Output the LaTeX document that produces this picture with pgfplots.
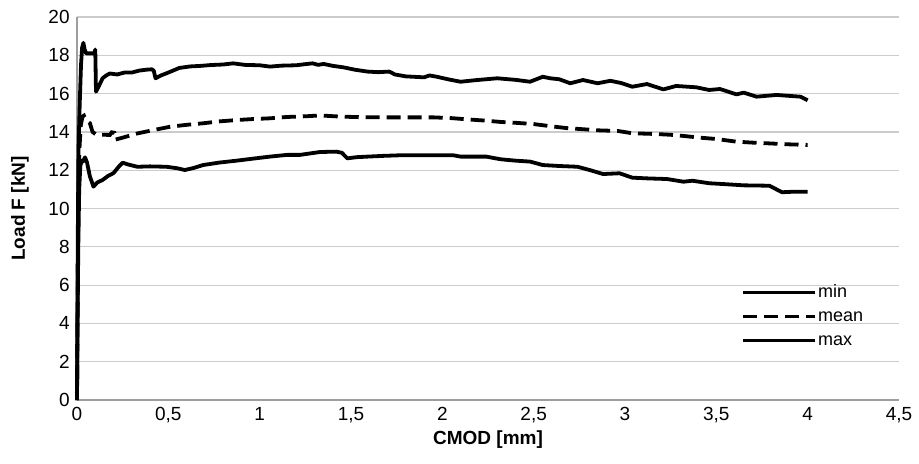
\documentclass[border=0pt]{standalone}
\usepackage{pgfplots}
\pgfplotsset{compat=1.18}
\usepackage{fontspec}
\setmainfont{Liberation Sans}
\begin{document}
\begin{tikzpicture}[x=1pt,y=1pt]
\useasboundingbox (0,0) rectangle (459.5,231.5);
\begin{axis}[
  at={(38.5pt,31.5pt)}, anchor=south west,
  scale only axis, width=411pt, height=191.5pt,
  xmin=0, xmax=4.5, ymin=0, ymax=20,
  xtick={0,0.5,...,4.5}, ytick={0,2,...,20},
  axis x line=bottom, axis y line=left,
  axis line style={-, color=black!38, line width=0.7pt},
  ymajorgrids, major grid style={color=black!20, line width=0.6pt},
  major tick length=0pt,
  /pgf/number format/assume math mode=true,
  /pgf/number format/use comma,
  xticklabel style={font=\fontsize{9.5}{11}\selectfont, inner sep=0pt, yshift=-3.5pt, anchor=north},
  yticklabel style={font=\fontsize{9.5}{11}\selectfont, inner sep=0pt, xshift=-3.5pt, anchor=east},
  xlabel={CMOD [mm]}, ylabel={Load F [kN]},
  label style={font=\fontsize{9.5}{11}\selectfont\bfseries},
  xlabel style={at={(axis description cs:0.5,0)}, anchor=center, yshift=-20pt},
  ylabel style={at={(axis description cs:0,0.5)}, anchor=center, yshift=28.5pt},
  clip=false,
  legend style={draw=none, fill=none, at={(axis cs:3.6,6.35)}, anchor=north west,
    font=\fontsize{9}{10}\selectfont, row sep=2.3pt,
    nodes={inner sep=0.6pt, text height=6.5pt, text depth=2pt}},
  legend cell align=left,
  legend image code/.code={\draw[#1] (0pt,0pt) -- (36pt,0pt);},
]
% min
\addplot[black, line width=1.9pt, line join=round] coordinates {
(0,0) (0.003,4) (0.007,8) (0.012,11) (0.018,12.2) (0.025,12.5) (0.032,12.45) (0.044,12.67) (0.055,12.4) (0.07,11.7) (0.09,11.14) (0.11,11.35) (0.14,11.49) (0.17,11.7) (0.20,11.85) (0.23,12.2) (0.25,12.39) (0.28,12.3) (0.33,12.18) (0.40,12.2) (0.49,12.18) (0.55,12.1) (0.59,12.01) (0.64,12.12) (0.69,12.27) (0.78,12.4) (0.875,12.5) (0.96,12.6) (1.056,12.71) (1.15,12.8) (1.22,12.8) (1.33,12.95) (1.42,12.97) (1.45,12.91) (1.48,12.62) (1.53,12.68) (1.59,12.71) (1.68,12.75) (1.77,12.78) (1.90,12.78) (2.06,12.78) (2.10,12.71) (2.24,12.71) (2.32,12.57) (2.40,12.5) (2.48,12.45) (2.55,12.27) (2.64,12.22) (2.74,12.18) (2.81,12.0) (2.88,11.80) (2.97,11.84) (3.04,11.61) (3.13,11.57) (3.23,11.54) (3.32,11.40) (3.37,11.45) (3.46,11.32) (3.55,11.27) (3.65,11.21) (3.79,11.19) (3.86,10.85) (3.93,10.88) (4.0,10.88)
};
\addlegendentry{min}
% mean
\addplot[black, line width=1.9pt, dash pattern=on 7pt off 3.5pt] coordinates {
(0,0) (0.004,6) (0.008,11) (0.014,13.2) (0.02,14.3) (0.03,14.8) (0.038,14.85) (0.05,14.6) (0.071,14.45) (0.085,14.0) (0.108,13.84) (0.15,13.85) (0.18,13.84) (0.19,13.98) (0.205,13.95) (0.21,13.6) (0.25,13.7) (0.33,13.92) (0.42,14.1) (0.51,14.27) (0.60,14.37) (0.69,14.45) (0.78,14.55) (0.875,14.62) (0.96,14.67) (1.056,14.71) (1.15,14.78) (1.26,14.82) (1.33,14.86) (1.44,14.8) (1.55,14.77) (1.68,14.76) (1.80,14.76) (1.95,14.76) (2.05,14.72) (2.13,14.66) (2.22,14.6) (2.32,14.52) (2.41,14.47) (2.50,14.41) (2.59,14.3) (2.68,14.2) (2.77,14.14) (2.86,14.08) (2.96,14.05) (3.04,13.93) (3.17,13.89) (3.25,13.85) (3.32,13.79) (3.41,13.7) (3.50,13.63) (3.61,13.49) (3.70,13.44) (3.79,13.40) (3.90,13.35) (4.0,13.32)
};
\addlegendentry{mean}
% max
\addplot[black, line width=1.9pt, line join=round] coordinates {
(0,0) (0.004,8) (0.008,13) (0.015,15.5) (0.022,17.5) (0.028,18.4) (0.035,18.65) (0.042,18.3) (0.05,18.1) (0.07,18.1) (0.095,18.1) (0.1,18.3) (0.104,16.1) (0.12,16.4) (0.14,16.8) (0.16,16.95) (0.18,17.05) (0.22,17.0) (0.26,17.1) (0.30,17.1) (0.34,17.2) (0.38,17.25) (0.41,17.27) (0.42,17.2) (0.43,16.8) (0.46,16.95) (0.50,17.1) (0.56,17.34) (0.62,17.42) (0.68,17.45) (0.73,17.49) (0.80,17.52) (0.855,17.58) (0.92,17.5) (1.0,17.48) (1.056,17.41) (1.12,17.46) (1.2,17.48) (1.26,17.55) (1.29,17.58) (1.32,17.5) (1.35,17.55) (1.40,17.45) (1.46,17.37) (1.52,17.25) (1.59,17.15) (1.65,17.12) (1.71,17.15) (1.74,17.0) (1.80,16.9) (1.84,16.88) (1.90,16.85) (1.93,16.95) (1.97,16.88) (2.03,16.75) (2.10,16.62) (2.18,16.7) (2.30,16.8) (2.40,16.72) (2.48,16.62) (2.55,16.88) (2.59,16.8) (2.64,16.75) (2.70,16.54) (2.77,16.71) (2.85,16.54) (2.92,16.67) (2.98,16.55) (3.04,16.36) (3.12,16.5) (3.21,16.22) (3.28,16.4) (3.39,16.33) (3.46,16.19) (3.52,16.24) (3.61,15.96) (3.65,16.05) (3.72,15.84) (3.83,15.93) (3.96,15.84) (4.0,15.65)
};
\addlegendentry{max}
\end{axis}
\end{tikzpicture}
\end{document}
